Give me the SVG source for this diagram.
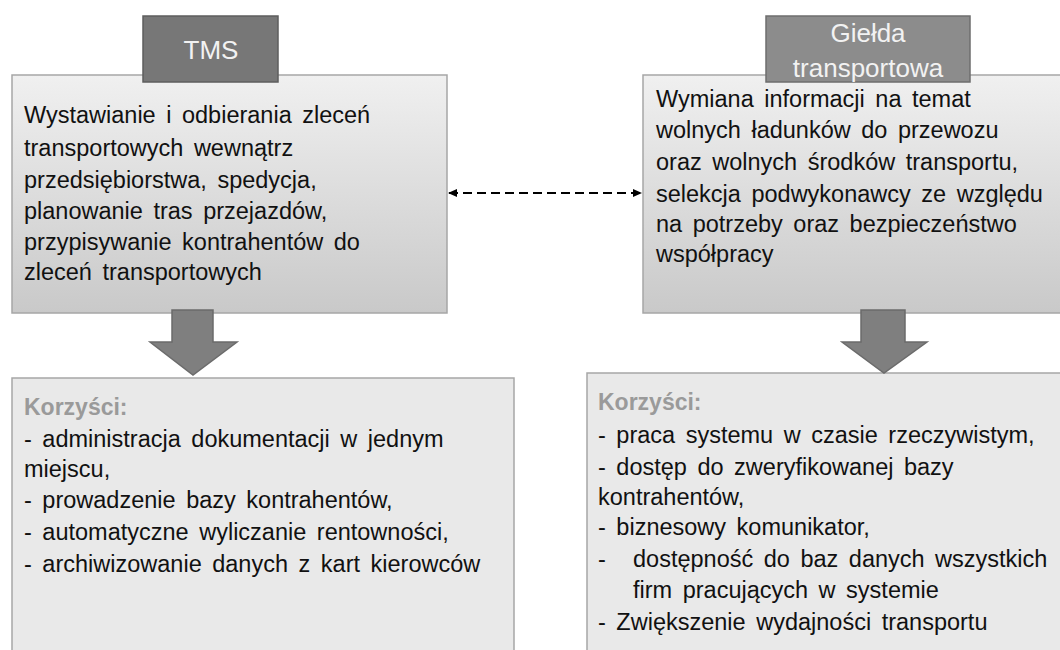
<svg xmlns="http://www.w3.org/2000/svg" width="1060" height="650" viewBox="0 0 1060 650">
<style>
.t{font-family:"Liberation Sans",Arial,sans-serif;font-size:23.5px;word-spacing:4px;fill:#111;}
.h{font-family:"Liberation Sans",Arial,sans-serif;font-size:23px;font-weight:bold;fill:#9a9a9a;}
.tab{font-family:"Liberation Sans",Arial,sans-serif;font-size:26px;fill:#f2f2f2;text-anchor:middle;}
.top{fill:url(#g);stroke:#a6a6a6;stroke-width:1.5;}
.bot{fill:#e9e9e9;stroke:#a6a6a6;stroke-width:1.5;}
.arr{fill:#7f7f7f;stroke:#6b6b6b;stroke-width:1.5;}
.con{stroke:#000;stroke-width:2.2;stroke-dasharray:9,5;fill:none;}
</style>
<defs>
<linearGradient id="g" x1="0" y1="0" x2="0" y2="1">
<stop offset="0" stop-color="#f0f0f0"/>
<stop offset="1" stop-color="#c9c9c9"/>
</linearGradient>
<marker id="ah" markerWidth="9" markerHeight="9" refX="8" refY="4.5" orient="auto-start-reverse" markerUnits="userSpaceOnUse">
<path d="M0,0.5 L9,4.5 L0,8.5 Z" fill="#000"/>
</marker>
</defs>
<rect width="1060" height="650" fill="#fff"/>

<g id="tms-box">
<rect class="top" x="12" y="75" width="435" height="238"/>
<text class="t" x="24" y="123">Wystawianie i odbierania zleceń</text>
<text class="t" x="24" y="156">transportowych wewnątrz</text>
<text class="t" x="24" y="188">przedsiębiorstwa, spedycja,</text>
<text class="t" x="24" y="219">planowanie tras przejazdów,</text>
<text class="t" x="24" y="250">przypisywanie kontrahentów do</text>
<text class="t" x="24" y="280">zleceń transportowych</text>
</g>
<g id="tms-tab">
<rect x="143" y="16" width="135" height="66" fill="#777" stroke="#5e5e5e" stroke-width="1.5"/>
<text class="tab" x="211" y="59">TMS</text>
</g>

<g id="gielda-box">
<rect class="top" x="643" y="75" width="430" height="238"/>
<text class="t" x="656" y="107">Wymiana informacji na temat</text>
<text class="t" x="656" y="138">wolnych ładunków do przewozu</text>
<text class="t" x="656" y="170">oraz wolnych środków transportu,</text>
<text class="t" x="656" y="202">selekcja podwykonawcy ze względu</text>
<text class="t" x="656" y="232">na potrzeby oraz bezpieczeństwo</text>
<text class="t" x="656" y="262">współpracy</text>
</g>
<g id="gielda-tab">
<rect x="766" y="16" width="204" height="66" fill="#8c8c8c" stroke="#6e6e6e" stroke-width="1.5"/>
<text class="tab" x="868" y="42">Giełda</text>
<text class="tab" x="868" y="77">transportowa</text>
</g>

<g id="tms-benefits">
<rect class="bot" x="12" y="378" width="502" height="290"/>
<text class="h" x="24" y="415">Korzyści:</text>
<text class="t" x="24" y="447">- administracja dokumentacji w jednym</text>
<text class="t" x="24" y="477">miejscu,</text>
<text class="t" x="24" y="508">- prowadzenie bazy kontrahentów,</text>
<text class="t" x="24" y="540">- automatyczne wyliczanie rentowności,</text>
<text class="t" x="24" y="572">- archiwizowanie danych z kart kierowców</text>
</g>

<g id="gielda-benefits">
<rect class="bot" x="587" y="373" width="490" height="290"/>
<text class="h" x="598" y="410">Korzyści:</text>
<text class="t" x="598" y="443">- praca systemu w czasie rzeczywistym,</text>
<text class="t" x="598" y="475">- dostęp do zweryfikowanej bazy</text>
<text class="t" x="598" y="505">kontrahentów,</text>
<text class="t" x="598" y="535">- biznesowy komunikator,</text>
<text class="t" x="598" y="567">-</text>
<text class="t" x="633" y="567">dostępność do baz danych wszystkich</text>
<text class="t" x="633" y="598">firm pracujących w systemie</text>
<text class="t" x="598" y="630">- Zwiększenie wydajności transportu</text>
</g>

<g id="connectors">
<line class="con" x1="449" y1="193" x2="641" y2="193" marker-start="url(#ah)" marker-end="url(#ah)"/>
<path class="arr" d="M172,310 L213,310 L213,342 L237,342 L193,375 L150,342 L172,342 Z"/>
<path class="arr" d="M861,310 L905,310 L905,342 L927,342 L884,373 L842,342 L861,342 Z"/>
</g>
</svg>
